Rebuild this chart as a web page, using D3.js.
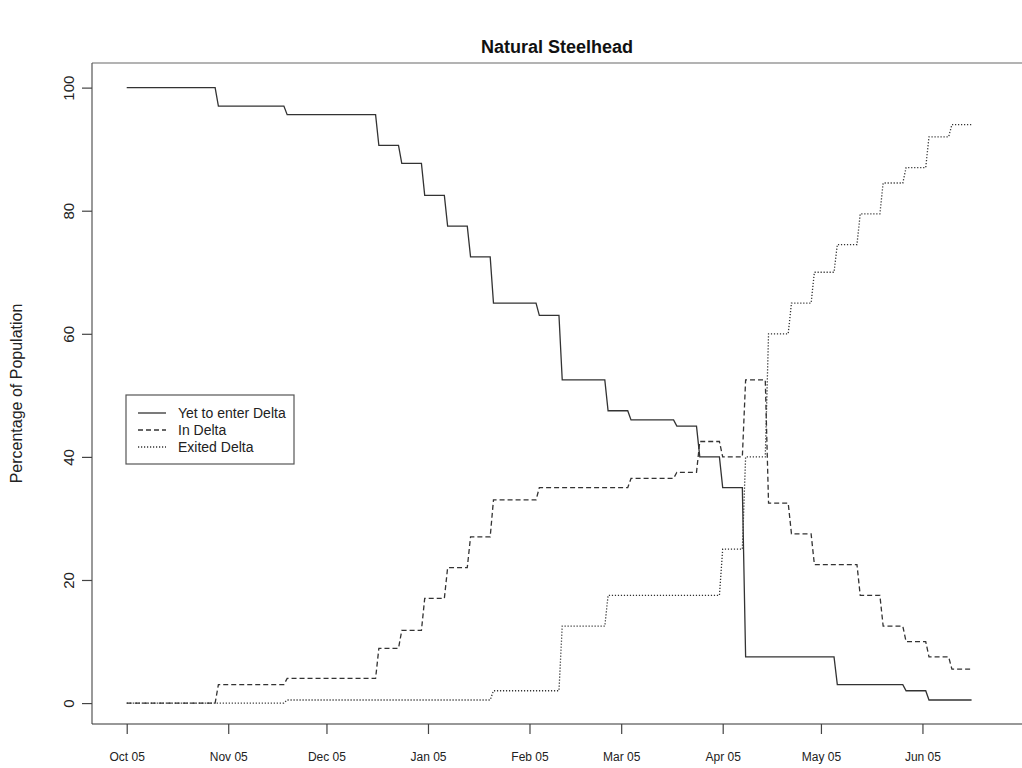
<!DOCTYPE html>
<html>
<head>
<meta charset="utf-8">
<script src="https://cdn.jsdelivr.net/npm/d3@7"></script>
<style>
  html, body { margin: 0; padding: 0; background: #fff; }
  svg { display: block; font-family: "Liberation Sans", Arial, sans-serif; }
</style>
</head>
<body>
<svg id="chart" width="1022" height="768"></svg>
<script>
// Weekly status of the tagged natural steelhead population (percent).
// Each series: the dates on which a new level starts, and that level.
const yetDates   = ["2004-10-05","2004-11-02","2004-11-23","2004-12-21","2004-12-28","2005-01-04","2005-01-11","2005-01-18","2005-01-25","2005-02-08","2005-02-15","2005-03-01","2005-03-08","2005-03-22","2005-03-29","2005-04-05","2005-04-12","2005-05-10","2005-05-31","2005-06-07"];
const yetValues  = [100, 97, 95.6, 90.6, 87.7, 82.5, 77.5, 72.5, 65, 63, 52.5, 47.5, 46, 45, 40, 35, 7.5, 3, 2, 0.5];

const inDates    = ["2004-10-05","2004-11-02","2004-11-23","2004-12-21","2004-12-28","2005-01-04","2005-01-11","2005-01-18","2005-01-25","2005-02-08","2005-03-08","2005-03-22","2005-03-29","2005-04-05","2005-04-12","2005-04-19","2005-04-26","2005-05-03","2005-05-17","2005-05-24","2005-05-31","2005-06-07","2005-06-14"];
const inValues   = [0, 3, 4, 8.9, 11.8, 17, 22, 27, 33, 35, 36.5, 37.5, 42.5, 40, 52.5, 32.5, 27.5, 22.5, 17.5, 12.5, 10, 7.5, 5.5];

const exitDates  = ["2004-10-05","2004-11-23","2005-01-25","2005-02-15","2005-03-01","2005-04-05","2005-04-12","2005-04-19","2005-04-26","2005-05-03","2005-05-10","2005-05-17","2005-05-24","2005-05-31","2005-06-07","2005-06-14"];
const exitValues = [0, 0.5, 2, 12.5, 17.5, 25, 40, 60, 65, 70, 74.5, 79.5, 84.5, 87, 92, 94];

const lastDate = "2005-06-20";

const seriesNames = ["Yet to enter Delta", "In Delta", "Exited Delta"];

const xTickDates  = ["2004-10-05","2004-11-05","2004-12-05","2005-01-05","2005-02-05","2005-03-05","2005-04-05","2005-05-05","2005-06-05"];
const xTickLabels = ["Oct 05","Nov 05","Dec 05","Jan 05","Feb 05","Mar 05","Apr 05","May 05","Jun 05"];
const yTicks = [0, 20, 40, 60, 80, 100];

const parse = d3.utcParse("%Y-%m-%d");
const svg = d3.select("#chart");

const plot = { left: 92, right: 1022, top: 63, bottom: 724 };

const x = d3.scaleUtc()
  .domain([new Date(Date.UTC(2004, 8, 24, 9, 36)), new Date(Date.UTC(2005, 6, 5, 9, 36))])
  .range([plot.left, plot.right]);
const y = d3.scaleLinear().domain([-3.4, 104]).range([plot.bottom, plot.top]);

// Turn level-change records into a step path: each level holds until the day
// before the next change, then moves to the new level over one day.
function stepPoints(dates, values) {
  const pts = [];
  for (let i = 0; i < dates.length; i++) {
    const d = parse(dates[i]);
    pts.push([d, values[i]]);
    const next = i + 1 < dates.length ? d3.utcDay.offset(parse(dates[i + 1]), -1) : parse(lastDate);
    pts.push([next, values[i]]);
  }
  return pts;
}

const line = d3.line().x(d => x(d[0])).y(d => y(d[1]));

const series = [
  { name: seriesNames[0], pts: stepPoints(yetDates, yetValues), dash: null },
  { name: seriesNames[1], pts: stepPoints(inDates, inValues), dash: "5,3" },
  { name: seriesNames[2], pts: stepPoints(exitDates, exitValues), dash: "1.2,1.8" }
];

// Plot frame
svg.append("line").attr("x1", plot.left).attr("x2", plot.right).attr("y1", plot.top).attr("y2", plot.top)
  .attr("stroke", "#9a9a9a").attr("stroke-width", 1.6);
svg.append("line").attr("x1", plot.left).attr("x2", plot.left).attr("y1", plot.top).attr("y2", plot.bottom)
  .attr("stroke", "#555").attr("stroke-width", 1.2);
svg.append("line").attr("x1", plot.left).attr("x2", plot.right).attr("y1", plot.bottom).attr("y2", plot.bottom)
  .attr("stroke", "#333").attr("stroke-width", 1.2);

// X axis
const xAxis = d3.axisBottom(x)
  .tickValues(xTickDates.map(parse))
  .tickSize(10)
  .tickPadding(18)
  .tickFormat((d, i) => xTickLabels[i]);
const gx = svg.append("g").attr("transform", `translate(0,${plot.bottom})`).call(xAxis);
gx.select(".domain").remove();
gx.selectAll(".tick line").attr("stroke", "#444").attr("stroke-width", 1.2);
gx.selectAll(".tick text").attr("font-size", 12).attr("fill", "#222").attr("font-family", "Liberation Sans, Arial, sans-serif");

// Y axis with vertical tick labels
const yAxis = d3.axisLeft(y).tickValues(yTicks).tickSize(10).tickFormat(d3.format("d"));
const gy = svg.append("g").attr("transform", `translate(${plot.left},0)`).call(yAxis);
gy.select(".domain").remove();
gy.selectAll(".tick line").attr("stroke", "#444").attr("stroke-width", 1.2);
gy.selectAll(".tick text")
  .attr("font-size", 15).attr("fill", "#222").attr("font-family", "Liberation Sans, Arial, sans-serif")
  .attr("x", null).attr("dy", null)
  .attr("text-anchor", "middle")
  .attr("transform", "translate(-18,0) rotate(-90)");

// Series lines
svg.append("g").selectAll("path").data(series).join("path")
  .attr("d", d => line(d.pts))
  .attr("fill", "none")
  .attr("stroke", "#333")
  .attr("stroke-width", 1.3)
  .attr("stroke-dasharray", d => d.dash);

// Title and axis title
svg.append("text").attr("x", (plot.left + plot.right) / 2).attr("y", 53)
  .attr("text-anchor", "middle").attr("font-size", 18).attr("font-weight", "bold").attr("fill", "#111")
  .text("Natural Steelhead");
svg.append("text").attr("transform", `translate(22,${(plot.top + plot.bottom) / 2}) rotate(-90)`)
  .attr("text-anchor", "middle").attr("font-size", 16).attr("fill", "#222")
  .text("Percentage of Population");

// Legend
const lg = svg.append("g").attr("transform", "translate(126,395)");
lg.append("rect").attr("width", 168).attr("height", 69).attr("fill", "#fff").attr("stroke", "#555").attr("stroke-width", 1.2);
const rows = lg.selectAll("g.row").data(series).join("g").attr("class", "row")
  .attr("transform", (d, i) => `translate(0,${18 + i * 17})`);
rows.append("line").attr("x1", 12).attr("x2", 40).attr("stroke", "#333").attr("stroke-width", 1.3)
  .attr("stroke-dasharray", d => d.dash);
rows.append("text").attr("x", 52).attr("y", 5).attr("font-size", 14).attr("fill", "#222").text(d => d.name);
</script>
</body>
</html>
